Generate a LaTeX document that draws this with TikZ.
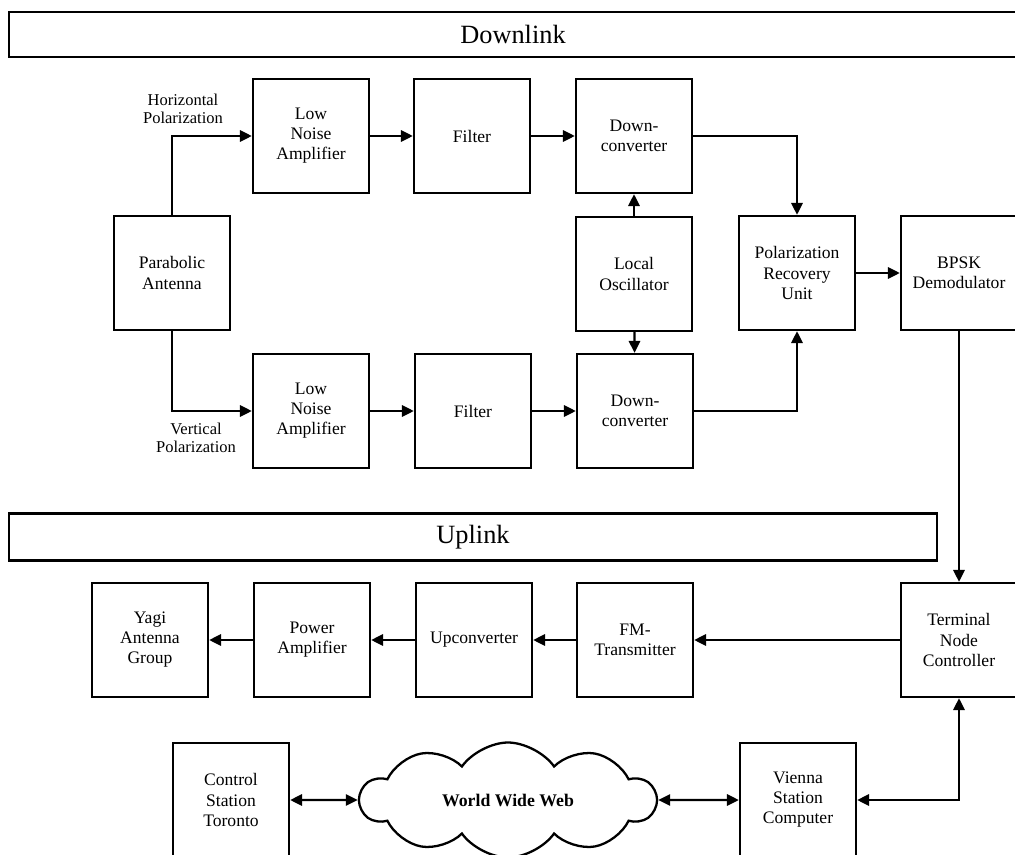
\documentclass[tikz,border=0pt]{standalone}
\usepackage{fontspec}
\setmainfont{Liberation Serif}
\usetikzlibrary{positioning, arrows.meta, shapes.symbols}

\tikzset{
  block/.style={draw, line width=1.3pt, minimum width=2.32cm, minimum height=2.28cm,
    align=center, inner sep=1pt, font=\fontsize{10}{11.4}\selectfont},
  bar/.style={draw, line width=1.3pt, minimum height=0.9cm, inner sep=0pt,
    font=\fontsize{15}{16}\selectfont},
  lbl/.style={align=center, font=\fontsize{9.4}{10.4}\selectfont},
  link/.style={line width=1.3pt, -{Triangle[length=6.8pt,width=6.4pt]}},
  dlink/.style={line width=1.3pt,
    {Triangle[length=6.8pt,width=6.4pt]}-{Triangle[length=6.8pt,width=6.4pt]}}
}

\begin{document}
\begin{tikzpicture}[x=0.02cm, y=-0.02cm]
\useasboundingbox (0,0) rectangle (1015,855);
\clip (0,0) rectangle (1015,855);

% downlink
\node[bar, minimum width=20.16cm] (dlbar) at (513,34.5) {Downlink};

\node[block] (pa)   at (172,273) {Parabolic\\Antenna};
\node[block] (lnah) at (311,136) {Low\\Noise\\Amplifier};
\node[block] (filh) at (472,136) {Filter};
\node[block] (dch)  at (634,136) {Down-\\converter};
\node[block] (lo)   at (634,274) {Local\\Oscillator};
\node[block] (lnav) at (311,411) {Low\\Noise\\Amplifier};
\node[block] (filv) at (473,411) {Filter};
\node[block] (dcv)  at (635,411) {Down-\\converter};
\node[block] (pru)  at (797,273) {Polarization\\Recovery\\Unit};
\node[block] (bpsk) at (959,273) {BPSK\\Demodulator};

\node[lbl] (hpol) at (183,109) {Horizontal\\Polarization};
\node[lbl] (vpol) at (196,438) {Vertical\\Polarization};

\draw[link] (pa.north) |- (lnah.west);
\draw[link] (pa.south) |- (lnav.west);
\draw[link] (lnah) -- (filh);
\draw[link] (filh) -- (dch);
\draw[link] (lnav) -- (filv);
\draw[link] (filv) -- (dcv);
\draw[link] (lo) -- (dch);
\draw[link] (lo) -- (dcv);
\draw[link] (dch.east) -| (pru.north);
\draw[link] (dcv.east) -| (pru.south);
\draw[link] (pru) -- (bpsk);

% uplink
\node[bar, minimum width=18.56cm, minimum height=0.94cm] (ulbar) at (473,537) {Uplink};

\node[block] (yagi) at (150,640) {Yagi\\Antenna\\Group};
\node[block] (pamp) at (312,640) {Power\\Amplifier};
\node[block] (upc)  at (474,640) {Upconverter};
\node[block] (fmt)  at (635,640) {FM-\\Transmitter};
\node[block] (tnc)  at (959,640) {Terminal\\Node\\Controller};

\draw[link] (bpsk) -- (tnc);
\draw[link] (tnc) -- (fmt);
\draw[link] (fmt) -- (upc);
\draw[link] (upc) -- (pamp);
\draw[link] (pamp) -- (yagi);

% ground stations
\node[block] (cst) at (231,800) {Control\\Station\\Toronto};
\node[draw, line width=1.3pt, cloud, cloud puffs=10, cloud puff arc=110, aspect=2.6,
  minimum width=5.9cm, minimum height=2.3cm, inner sep=0pt,
  font=\fontsize{10.1}{11.4}\selectfont\bfseries] (www) at (508,800) {World Wide Web};
\node[block] (vsc) at (798,800) {Vienna\\Station\\Computer};

\draw[dlink] (cst) -- (www);
\draw[dlink] (www) -- (vsc);
\draw[dlink] (vsc.east) -| (tnc.south);
\end{tikzpicture}
\end{document}
